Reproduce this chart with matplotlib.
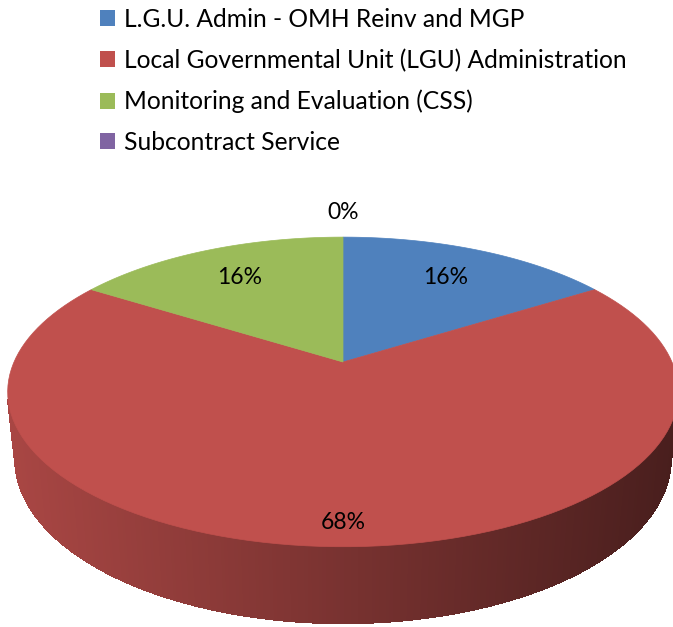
import numpy as np
import matplotlib.pyplot as plt
from matplotlib.patches import Polygon, Patch
from matplotlib.collections import PolyCollection
from matplotlib.colors import to_rgb

labels = ['L.G.U. Admin - OMH Reinv and MGP',
          'Local Governmental Unit (LGU) Administration',
          'Monitoring and Evaluation (CSS)',
          'Subcontract Service']
values = [16, 68, 16, 0]
colors = ['#4F81BD', '#C0504D', '#9BBB59', '#8064A2']

# radius (fraction of pie) where each % label sits
label_r = [0.73, 0.89, 0.73, 1.24]

# perspective camera for the 3d pie (pixel space)
CX, CY = 343, 362
F = 1516.7
D = 4.61
S, C = 0.453, 0.891
H = 0.23


def proj(X, Y, Z=0.0):
    w = D + Y * C - Z * S
    sx = F * X / w
    sy = F * (Y * S + Z * C) / w
    return CX + sx, CY - sy


fig = plt.figure(figsize=(6.73, 6.27), dpi=100)
ax = fig.add_axes([0, 0, 1, 1])
ax.set_xlim(0, 673)
ax.set_ylim(627, 0)
ax.axis('off')

total = float(sum(values))
# excel style: start at 12 o'clock, go clockwise
bounds = [90.0]
for v in values:
    bounds.append(bounds[-1] - 360.0 * v / total)


def slice_at(deg):
    for i in range(len(values)):
        hi, lo = bounds[i], bounds[i + 1]
        d = deg
        while d > hi:
            d -= 360
        while d < lo:
            d += 360
        if lo <= d <= hi and hi > lo:
            return i
    return 0


# side wall (only the near part is visible)
t = np.linspace(194, 346, 300)
quads, fcs = [], []
xmin, xmax = proj(np.cos(np.radians(194)), np.sin(np.radians(194)))[0], \
    proj(np.cos(np.radians(346)), np.sin(np.radians(346)))[0]
for a0, a1 in zip(t[:-1], t[1:]):
    r0, r1 = np.radians(a0), np.radians(a1)
    p = [proj(np.cos(r0), np.sin(r0)), proj(np.cos(r1), np.sin(r1)),
         proj(np.cos(r1), np.sin(r1), -H), proj(np.cos(r0), np.sin(r0), -H)]
    quads.append(p)
    xm = (p[0][0] + p[1][0]) / 2
    k = 0.88 - 0.5 * (xm - xmin) / (xmax - xmin)
    base = np.array(to_rgb(colors[slice_at((a0 + a1) / 2)]))
    fcs.append(base * k)
ax.add_collection(PolyCollection(quads, facecolors=fcs, edgecolors=fcs,
                                 linewidths=1.0, antialiaseds=False))

# top face
for i, v in enumerate(values):
    if v <= 0:
        continue
    ang = np.radians(np.linspace(bounds[i], bounds[i + 1], 120))
    pts = [proj(0, 0)] + [proj(np.cos(a), np.sin(a)) for a in ang]
    ax.add_patch(Polygon(pts, closed=True, facecolor=colors[i], edgecolor=colors[i], lw=0.5))

# percentage labels
for i, v in enumerate(values):
    mid = np.radians((bounds[i] + bounds[i + 1]) / 2)
    x, y = proj(label_r[i] * np.cos(mid), label_r[i] * np.sin(mid))
    ax.text(x, y, f'{round(100 * v / total)}%', ha='center', va='center',
            fontsize=16.5, family='Lato', color='black')

handles = [Patch(facecolor=c, edgecolor='none') for c in colors]
ax.legend(handles, labels, loc='upper left', bbox_to_anchor=(100 / 673, 1 - 8 / 627),
          frameon=False, prop={'family': 'Lato', 'size': 17.7},
          handlelength=0.62, handleheight=0.62, handletextpad=0.35,
          labelspacing=0.72, borderaxespad=0, borderpad=0)

fig.savefig('out.png', dpi=100)
